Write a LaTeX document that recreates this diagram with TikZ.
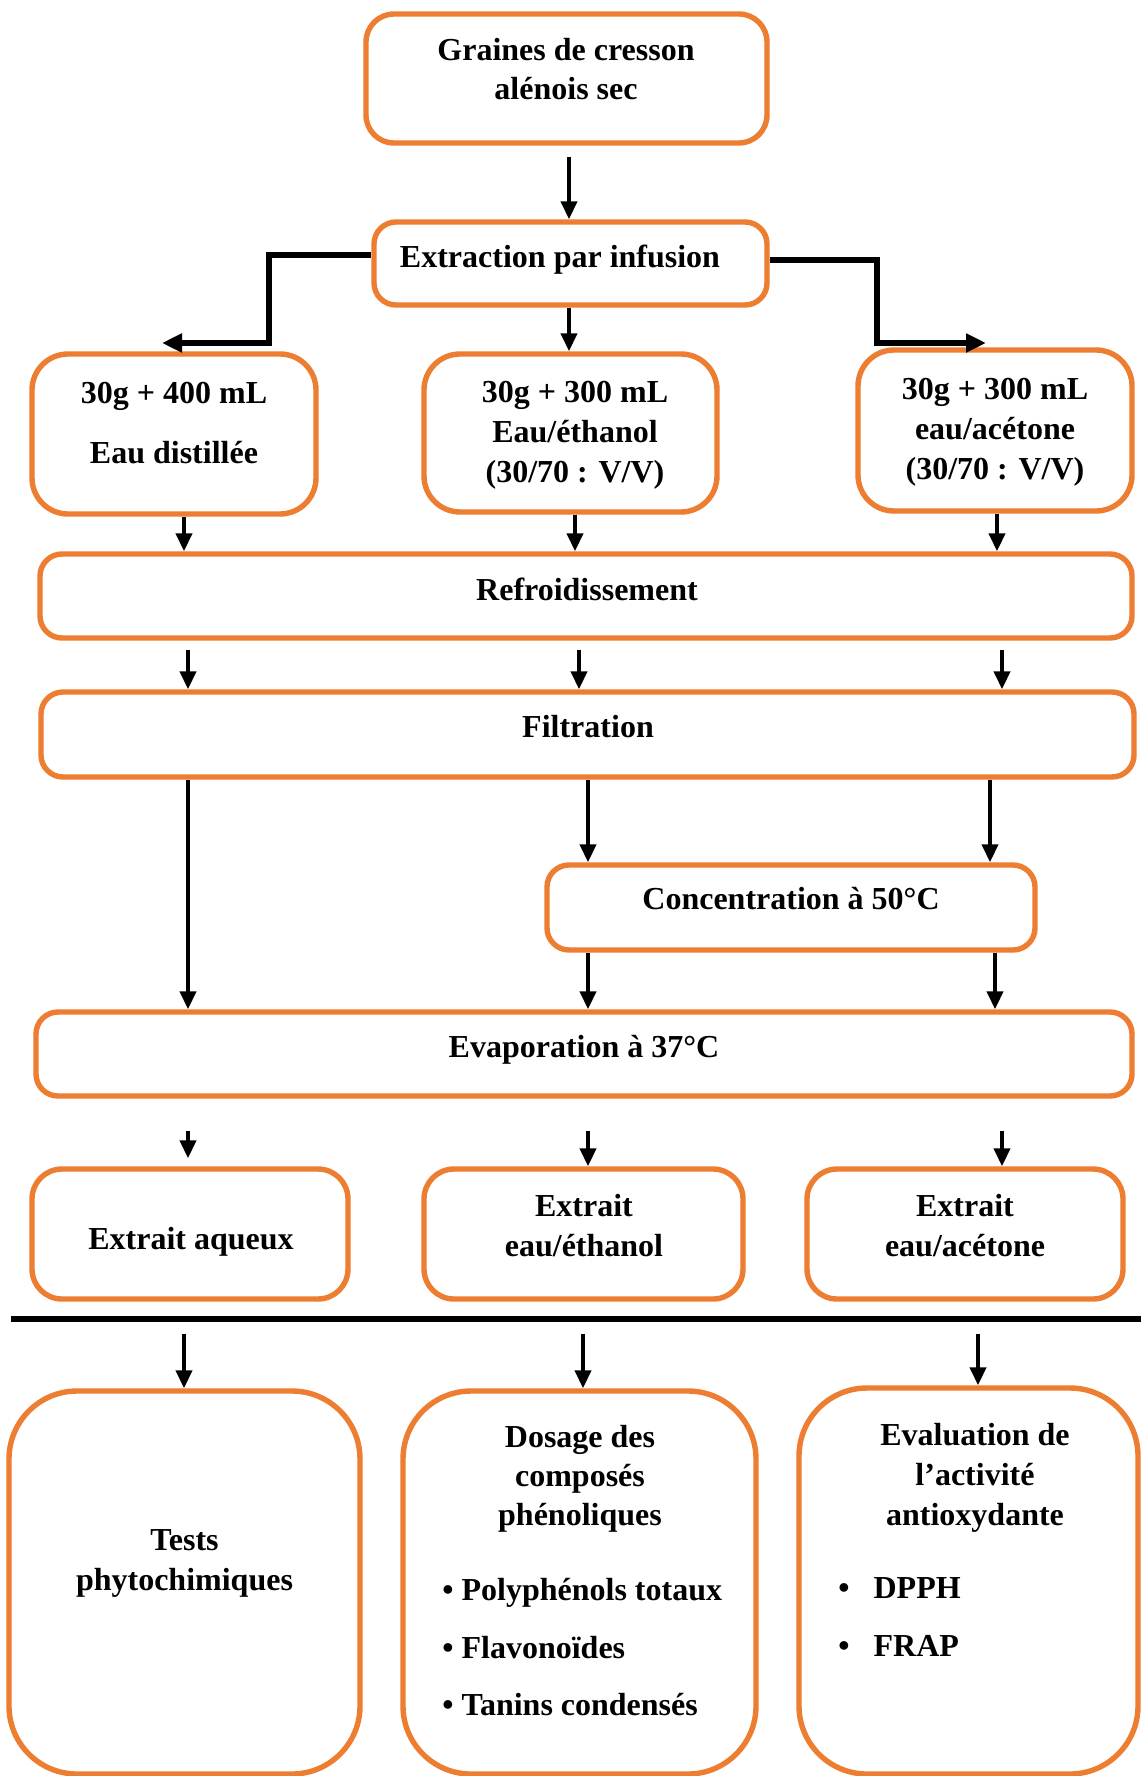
\documentclass[tikz,border=0pt]{standalone}
\usepackage{fontspec}
\setmainfont{Liberation Serif}
\usetikzlibrary{arrows.meta}
\definecolor{orng}{HTML}{ED7D31}
\begin{document}
\begin{tikzpicture}[x=0.5pt,y=-0.5pt,
 box/.style={draw=orng, line width=2.7pt, rounded corners=12pt, inner sep=0pt, fill=white},
 lbl/.style={font=\bfseries\fontsize{16}{19.5}\selectfont, align=center, anchor=base, inner sep=0pt},
 arr/.style={line width=2pt, -{Triangle[length=9pt,width=8pt]}},
 tarr/.style={line width=3.2pt, -{Triangle[length=10pt,width=9pt]}},
]
\useasboundingbox[fill=white] (0,0) rectangle (1141,1776);
% boxes
\node[box, minimum width=200.5pt, minimum height=64.5pt, rounded corners=14pt] (top) at (566.5,78.5) {};
\node[box, minimum width=196.5pt, minimum height=41.5pt, rounded corners=11pt] (extr) at (570.5,263.5) {};
\node[box, minimum width=142pt, minimum height=80pt, rounded corners=18pt] (b1) at (174,434) {};
\node[box, minimum width=146.5pt, minimum height=79pt, rounded corners=18pt] (b2) at (570.5,433) {};
\node[box, minimum width=137pt, minimum height=80.5pt, rounded corners=18pt] (b3) at (995,430.5) {};
\node[box, minimum width=546pt, minimum height=42pt, rounded corners=11pt] (refr) at (586,596) {};
\node[box, minimum width=546.5pt, minimum height=42.5pt, rounded corners=11pt] (filt) at (587.5,734.5) {};
\node[box, minimum width=244pt, minimum height=42.5pt, rounded corners=11pt] (conc) at (791,907.5) {};
\node[box, minimum width=548pt, minimum height=42pt, rounded corners=11pt] (evap) at (584,1054) {};
\node[box, minimum width=158pt, minimum height=65pt, rounded corners=15pt] (e1) at (190,1234) {};
\node[box, minimum width=159.5pt, minimum height=65pt, rounded corners=15pt] (e2) at (583.5,1234) {};
\node[box, minimum width=158pt, minimum height=65pt, rounded corners=15pt] (e3) at (965,1234) {};
\node[box, minimum width=175.5pt, minimum height=191.5pt, rounded corners=34pt] (t1) at (184.5,1582.5) {};
\node[box, minimum width=176.5pt, minimum height=191.5pt, rounded corners=34pt] (t2) at (579.5,1582.5) {};
\node[box, minimum width=169.5pt, minimum height=193pt, rounded corners=34pt] (t3) at (968.5,1581) {};
% texts (multi-line nodes: anchor=base is the last line's baseline)
\node[lbl, font=\bfseries\fontsize{16}{19.5}\selectfont] (ttop) at (566,100) {Graines de cresson\\alénois sec};
\node[lbl] (textr) at (560,268) {Extraction par infusion};
\node[lbl, font=\bfseries\fontsize{16}{30}\selectfont] (tb1) at (174,463.5) {30g + 400 mL\\Eau distillée};
\node[lbl, font=\bfseries\fontsize{16}{20}\selectfont] (tb2) at (575,482) {30g + 300 mL\\Eau/éthanol\\(30/70 : V/V)};
\node[lbl, font=\bfseries\fontsize{16}{20}\selectfont] (tb3) at (995,479) {30g + 300 mL\\eau/acétone\\(30/70 : V/V)};
\node[lbl] (trefr) at (587,600) {Refroidissement};
\node[lbl] (tfilt) at (588,737.5) {Filtration};
\node[lbl] (tconc) at (791,909) {Concentration à 50°C};
\node[lbl] (tevap) at (584,1057) {Evaporation à 37°C};
\node[lbl] (te1) at (191,1249) {Extrait aqueux};
\node[lbl, font=\bfseries\fontsize{16}{20}\selectfont] (te2) at (584,1256) {Extrait\\eau/éthanol};
\node[lbl, font=\bfseries\fontsize{16}{20}\selectfont] (te3) at (965,1256) {Extrait\\eau/acétone};
\node[lbl, font=\bfseries\fontsize{16}{19.75}\selectfont] (tt1) at (184.5,1590) {Tests\\phytochimiques};
\node[lbl, font=\bfseries\fontsize{16}{19.5}\selectfont] (tt2) at (580,1525) {Dosage des\\composés\\phénoliques};
\node[lbl, anchor=base west] (p1) at (442,1600) {• Polyphénols totaux};
\node[lbl, anchor=base west] (p2) at (442,1658) {• Flavonoïdes};
\node[lbl, anchor=base west] (p3) at (442,1715.5) {• Tanins condensés};
\node[lbl, font=\bfseries\fontsize{16}{20}\selectfont] (tt3) at (975,1525) {Evaluation de\\l’activité\\antioxydante};
\node[lbl, anchor=base west] (q1) at (838,1598) {•\hspace{12pt}DPPH};
\node[lbl, anchor=base west] (q2) at (838,1656) {•\hspace{12pt}FRAP};
% column coordinates
\coordinate (xA1) at (184,0);
\coordinate (xA2) at (188,0);
\coordinate (xT) at (569,0);
\coordinate (xM1) at (575,0);
\coordinate (xM2) at (579,0);
\coordinate (xM3) at (588,0);
\coordinate (xM4) at (583,0);
\coordinate (xR1) at (997,0);
\coordinate (xR2) at (1002,0);
\coordinate (xR3) at (990,0);
\coordinate (xR4) at (995,0);
\coordinate (xR5) at (978,0);
% arrows
\draw[arr, shorten <=5.5pt] (top.south -| xT) -- (extr.north -| xT);
\draw[arr] (extr.south -| xT) -- (b2.north -| xT);
\coordinate (kL) at (269,343);
\coordinate (tL) at (162,343);
\coordinate (kR) at (877,343);
\coordinate (tR) at (986,343);
\draw[tarr] ([yshift=4.25pt]extr.west) -| (kL) -- (tL);
\draw[tarr] ([yshift=1.75pt]extr.east) -| (kR) -- (tR);
\draw[arr] (b1.south -| xA1) -- (refr.north -| xA1);
\draw[arr] (b2.south -| xM1) -- (refr.north -| xM1);
\draw[arr] (b3.south -| xR1) -- (refr.north -| xR1);
\draw[arr, shorten <=4.5pt] (refr.south -| xA2) -- (filt.north -| xA2);
\draw[arr, shorten <=4.5pt] (refr.south -| xM2) -- (filt.north -| xM2);
\draw[arr, shorten <=4.5pt] (refr.south -| xR2) -- (filt.north -| xR2);
\draw[arr] (filt.south -| xA2) -- (evap.north -| xA2);
\draw[arr] (filt.south -| xM3) -- (conc.north -| xM3);
\draw[arr] (filt.south -| xR3) -- (conc.north -| xR3);
\draw[arr] (conc.south -| xM3) -- (evap.north -| xM3);
\draw[arr] (conc.south -| xR4) -- (evap.north -| xR4);
\draw[arr, shorten <=16pt, shorten >=4pt] (evap.south -| xA2) -- (e1.north -| xA2);
\draw[arr, shorten <=16pt] (evap.south -| xM3) -- (e2.north -| xM3);
\draw[arr, shorten <=16pt] (evap.south -| xR2) -- (e3.north -| xR2);
\coordinate (sepL) at (11,1319);
\coordinate (sepR) at (1141,1319);
\draw[line width=3pt] (sepL) -- (sepR);
\draw[arr, shorten <=16pt] (e1.south -| xA1) -- (t1.north -| xA1);
\draw[arr, shorten <=16pt] (e2.south -| xM4) -- (t2.north -| xM4);
\draw[arr, shorten <=16pt] (e3.south -| xR5) -- (t3.north -| xR5);
\end{tikzpicture}
\end{document}
